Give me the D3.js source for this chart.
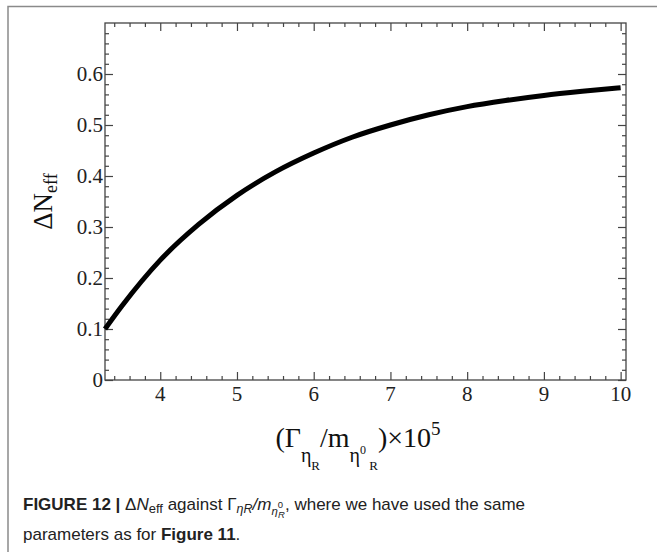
<!DOCTYPE html>
<html>
<head>
<meta charset="utf-8">
<script src="https://cdn.jsdelivr.net/npm/d3@7"></script>
<style>
  body { margin: 0; background: #fff; }
  svg { display: block; }
</style>
</head>
<body>
<div id="main"></div>
<script>
// values
const ratio = [3.28, 3.5, 4, 4.5, 5, 5.5, 6, 6.5, 7, 7.5, 8, 8.5, 9, 9.5, 10];
const deltaN = [0.100, 0.145, 0.235, 0.305, 0.362, 0.408, 0.445, 0.476, 0.500, 0.520, 0.536, 0.548, 0.558, 0.566, 0.573];
const xTicks = [4, 5, 6, 7, 8, 9, 10];
const yTicks = [0, 0.1, 0.2, 0.3, 0.4, 0.5, 0.6];

const width = 657;
const height = 552;
const plot = { left: 105, right: 626, top: 23, bottom: 380 };

const svg = d3.select("#main").append("svg")
  .attr("width", width)
  .attr("height", height);

// figure box (top and left rules only)
svg.append("path")
  .attr("d", `M8,${height} V6.5 H${width}`)
  .attr("fill", "none")
  .attr("stroke", "#8a8a8a")
  .attr("stroke-width", 1.5);

const x = d3.scaleLinear().domain([3.28, 10.07]).range([plot.left, plot.right]);
const y = d3.scaleLinear().domain([0, 0.7]).range([plot.bottom, plot.top]);

const serif = "'Liberation Serif', 'DejaVu Serif', serif";

const xMinor = d3.range(3.4, 10.01, 0.2).filter(v => Math.abs(v - Math.round(v)) > 0.01);
const yMinor = d3.range(0.02, 0.7, 0.02).filter(v => Math.abs(v * 10 - Math.round(v * 10)) > 0.01);

function tickAxis(axis, ticks, size) {
  return axis.tickValues(ticks).tickSize(size).tickFormat("");
}

const axes = svg.append("g").attr("class", "axes");

// inward ticks on all four sides
axes.append("g").attr("transform", `translate(0,${plot.bottom})`)
  .call(tickAxis(d3.axisTop(x), xTicks, 8));
axes.append("g").attr("transform", `translate(0,${plot.bottom})`)
  .call(tickAxis(d3.axisTop(x), xMinor, 4));
axes.append("g").attr("transform", `translate(0,${plot.top})`)
  .call(tickAxis(d3.axisBottom(x), xTicks, 8));
axes.append("g").attr("transform", `translate(0,${plot.top})`)
  .call(tickAxis(d3.axisBottom(x), xMinor, 4));
axes.append("g").attr("transform", `translate(${plot.left},0)`)
  .call(tickAxis(d3.axisRight(y), yTicks, 8));
axes.append("g").attr("transform", `translate(${plot.left},0)`)
  .call(tickAxis(d3.axisRight(y), yMinor, 4));
axes.append("g").attr("transform", `translate(${plot.right},0)`)
  .call(tickAxis(d3.axisLeft(y), yTicks, 8));
axes.append("g").attr("transform", `translate(${plot.right},0)`)
  .call(tickAxis(d3.axisLeft(y), yMinor, 4));

axes.selectAll(".domain").remove();
axes.selectAll(".tick line").attr("stroke", "#444").attr("stroke-width", 1.2);

svg.append("rect")
  .attr("x", plot.left)
  .attr("y", plot.top)
  .attr("width", plot.right - plot.left)
  .attr("height", plot.bottom - plot.top)
  .attr("fill", "none")
  .attr("stroke", "#444")
  .attr("stroke-width", 1.3);

// tick labels
svg.append("g").selectAll("text")
  .data(xTicks)
  .join("text")
  .attr("x", d => x(d))
  .attr("y", plot.bottom + 21)
  .attr("text-anchor", "middle")
  .attr("font-family", serif)
  .attr("font-size", 21)
  .attr("fill", "#222")
  .text(d => d);

svg.append("g").selectAll("text")
  .data(yTicks)
  .join("text")
  .attr("x", plot.left - 2)
  .attr("y", d => y(d) + 7)
  .attr("text-anchor", "end")
  .attr("font-family", serif)
  .attr("font-size", 21)
  .attr("fill", "#222")
  .text(d => d);

// curve
const line = d3.line()
  .x((d, i) => x(ratio[i]))
  .y(d => y(d))
  .curve(d3.curveMonotoneX);

svg.append("path")
  .datum(deltaN)
  .attr("d", line)
  .attr("fill", "none")
  .attr("stroke", "#000")
  .attr("stroke-width", 5)
  .attr("stroke-linecap", "butt");

// y axis title
const yTitle = svg.append("text")
  .attr("transform", `translate(52,${(plot.top + plot.bottom) / 2}) rotate(-90)`)
  .attr("text-anchor", "middle")
  .attr("font-family", serif)
  .attr("font-size", 27)
  .attr("fill", "#111");
yTitle.append("tspan").text("ΔN");
yTitle.append("tspan").attr("font-size", 18).attr("dy", 5).text("eff");

// x axis title
const xTitle = svg.append("text")
  .attr("x", 358)
  .attr("y", 447)
  .attr("text-anchor", "middle")
  .attr("font-family", serif)
  .attr("font-size", 28)
  .attr("fill", "#111");
xTitle.append("tspan").text("(Γ");
xTitle.append("tspan").attr("font-size", 20).attr("dy", 15).text("η");
xTitle.append("tspan").attr("font-size", 13).attr("dy", 8).text("R");
xTitle.append("tspan").attr("dy", -23).text("/m");
xTitle.append("tspan").attr("font-size", 20).attr("dy", 15).text("η");
xTitle.append("tspan").attr("font-size", 12).attr("dy", -8).text("0");
xTitle.append("tspan").attr("font-size", 13).attr("dy", 16).text(" R");
xTitle.append("tspan").attr("dy", -23).text(")×10");
xTitle.append("tspan").attr("font-size", 19).attr("dy", -12).text("5");

// caption
const sans = "'Liberation Sans', Arial, sans-serif";
const cap1 = svg.append("text")
  .attr("x", 23)
  .attr("y", 510)
  .attr("font-family", sans)
  .attr("font-size", 17)
  .attr("fill", "#222");
cap1.append("tspan").attr("font-weight", "bold").text("FIGURE 12 | ");
cap1.append("tspan").text("Δ");
cap1.append("tspan").attr("font-style", "italic").text("N");
cap1.append("tspan").attr("font-size", 13).attr("dy", 3).text("eff");
cap1.append("tspan").attr("dy", -3).text(" against Γ");
cap1.append("tspan").attr("font-size", 12.5).attr("dy", 3).attr("font-style", "italic").text("ηR");
cap1.append("tspan").attr("dy", -3).attr("font-style", "italic").text("/m");
cap1.append("tspan").attr("font-size", 11.5).attr("dy", 5).attr("font-style", "italic").text("η");
cap1.append("tspan").attr("font-size", 9.5).attr("dy", -7).text("0");
cap1.append("tspan").attr("font-size", 9.5).attr("dx", -5).attr("dy", 10).attr("font-style", "italic").text("R");
cap1.append("tspan").attr("dy", -8).text(", where we have used the same");

const cap2 = svg.append("text")
  .attr("x", 23)
  .attr("y", 540)
  .attr("font-family", sans)
  .attr("font-size", 17)
  .attr("fill", "#222");
cap2.append("tspan").text("parameters as for ");
cap2.append("tspan").attr("font-weight", "bold").text("Figure 11");
cap2.append("tspan").text(".");
</script>
</body>
</html>
